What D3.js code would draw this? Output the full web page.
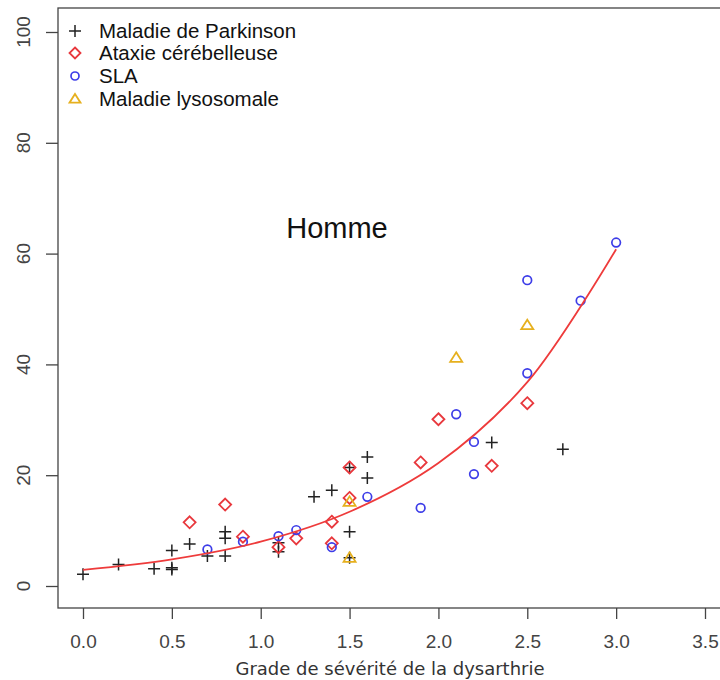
<!DOCTYPE html>
<html>
<head>
<meta charset="utf-8">
<script src="https://cdn.jsdelivr.net/npm/d3@7"></script>
<style>
  html, body { margin: 0; padding: 0; background: #fff; }
  svg { display: block; }
</style>
</head>
<body>
<script>
// ---- Data ----
const parkinsonX = [0.0, 0.2, 0.4, 0.5, 0.5, 0.5, 0.6, 0.7, 0.8, 0.8, 0.8, 1.1, 1.1, 1.3, 1.4, 1.5, 1.5, 1.5, 1.6, 1.6, 2.3, 2.7];
const parkinsonY = [2.1, 3.9, 3.1, 6.4, 3.3, 3.0, 7.6, 5.4, 9.8, 8.6, 5.4, 7.8, 6.2, 16.1, 17.3, 21.4, 9.8, 5.1, 23.3, 19.5, 25.9, 24.7];

const ataxieX = [0.6, 0.8, 0.9, 1.1, 1.2, 1.4, 1.4, 1.5, 1.5, 1.9, 2.0, 2.3, 2.5];
const ataxieY = [11.5, 14.7, 8.9, 7.0, 8.6, 11.6, 7.7, 21.4, 15.9, 22.3, 30.1, 21.7, 33.0];

const slaX = [0.7, 0.9, 1.1, 1.2, 1.4, 1.6, 1.9, 2.1, 2.2, 2.2, 2.5, 2.5, 2.8, 3.0];
const slaY = [6.6, 8.0, 9.0, 10.1, 7.0, 16.1, 14.1, 31.0, 26.0, 20.2, 38.4, 55.2, 51.5, 62.0];

const lysoX = [1.5, 1.5, 2.1, 2.5];
const lysoY = [15.2, 5.1, 41.2, 47.1];

// fitted curve, read at regular grades
const curveX = [0.0, 0.5, 1.0, 1.5, 2.0, 2.5, 3.0];
const curveY = [2.9, 4.8, 8.0, 13.4, 22.2, 36.8, 60.8];

const xTicks = [0.0, 0.5, 1.0, 1.5, 2.0, 2.5, 3.0, 3.5];
const yTicks = [0, 20, 40, 60, 80, 100];

const legendLabels = ["Maladie de Parkinson", "Ataxie cérébelleuse", "SLA", "Maladie lysosomale"];
const panelLabel = "Homme";
const xTitle = "Grade de sévérité de la dysarthrie";

// ---- Layout ----
const W = 720, H = 680;
const box = { left: 58, top: 8, bottom: 608, right: 740 };
const colors = { park: "#222222", atax: "#e8383d", sla: "#3d3de8", lyso: "#e6b01e", curve: "#ee3b3b" };

const svg = d3.select("body").append("svg").attr("width", W).attr("height", H);

const x = d3.scaleLinear().domain([0, 3.5]).range([83, 705]);
const y = d3.scaleLinear().domain([0, 100]).range([586, 32]);

// Plot box
svg.append("rect")
  .attr("x", box.left).attr("y", box.top)
  .attr("width", box.right - box.left).attr("height", box.bottom - box.top)
  .attr("fill", "none").attr("stroke", "#444").attr("stroke-width", 1.3);

// Axes
const xAxis = d3.axisBottom(x).tickValues(xTicks).tickFormat(d3.format(".1f")).tickSize(11).tickPadding(16);
const gx = svg.append("g").attr("transform", `translate(0,${box.bottom})`).call(xAxis);
gx.select(".domain").remove();
gx.selectAll("line").attr("stroke", "#444").attr("stroke-width", 1.3);
gx.selectAll("text").attr("font-family", "Liberation Sans, Arial, sans-serif").attr("font-size", 19).attr("fill", "#444");

const yAxis = d3.axisLeft(y).tickValues(yTicks).tickSize(12).tickFormat("");
const gy = svg.append("g").attr("transform", `translate(${box.left},0)`).call(yAxis);
gy.select(".domain").remove();
gy.selectAll("line").attr("stroke", "#444").attr("stroke-width", 1.3);
gy.selectAll("text").remove();

svg.append("g").selectAll("text").data(yTicks).join("text")
  .attr("transform", d => `translate(30,${y(d)}) rotate(-90)`)
  .attr("text-anchor", "middle")
  .attr("font-family", "Liberation Sans, Arial, sans-serif").attr("font-size", 19).attr("fill", "#444")
  .text(d => d);

// x title
svg.append("text").attr("x", 390).attr("y", 675)
  .attr("text-anchor", "middle")
  .attr("font-family", "DejaVu Sans, sans-serif").attr("font-size", 18)
  .attr("fill", "#333")
  .text(xTitle);

// Panel label
svg.append("text").attr("x", 337).attr("y", 238)
  .attr("text-anchor", "middle")
  .attr("font-family", "Liberation Sans, Arial, sans-serif").attr("font-size", 29)
  .attr("fill", "#111")
  .text(panelLabel);

// ---- Marker drawing helpers ----
function plus(g, cx, cy, s, c) {
  g.append("path").attr("d", `M${cx - s},${cy}H${cx + s}M${cx},${cy - s}V${cy + s}`)
    .attr("stroke", c).attr("stroke-width", 1.5).attr("fill", "none");
}
function diamond(g, cx, cy, s, c) {
  g.append("path").attr("d", `M${cx},${cy - s}L${cx + s},${cy}L${cx},${cy + s}L${cx - s},${cy}Z`)
    .attr("stroke", c).attr("stroke-width", 1.8).attr("fill", "none");
}
function circle(g, cx, cy, r, c) {
  g.append("circle").attr("cx", cx).attr("cy", cy).attr("r", r)
    .attr("stroke", c).attr("stroke-width", 1.7).attr("fill", "none");
}
function triangle(g, cx, cy, s, c) {
  const h = s * 0.9;
  g.append("path").attr("d", `M${cx},${cy - h}L${cx + s},${cy + h * 0.75}L${cx - s},${cy + h * 0.75}Z`)
    .attr("stroke", c).attr("stroke-width", 1.8).attr("fill", "none");
}

const pts = svg.append("g");
parkinsonX.forEach((v, i) => plus(pts, x(v), y(parkinsonY[i]), 6, colors.park));
ataxieX.forEach((v, i) => diamond(pts, x(v), y(ataxieY[i]), 6, colors.atax));
slaX.forEach((v, i) => circle(pts, x(v), y(slaY[i]), 4.3, colors.sla));
lysoX.forEach((v, i) => triangle(pts, x(v), y(lysoY[i]), 6, colors.lyso));

// Curve
const line = d3.line().x(d => x(d[0])).y(d => y(d[1])).curve(d3.curveCatmullRom);
svg.append("path")
  .datum(curveX.map((v, i) => [v, curveY[i]]))
  .attr("d", line)
  .attr("fill", "none").attr("stroke", colors.curve).attr("stroke-width", 1.8);

// Legend
const leg = svg.append("g");
const legY = [31, 53, 76, 99];
const drawers = [
  (cy) => plus(leg, 75, cy, 6, colors.park),
  (cy) => diamond(leg, 75, cy, 5.5, colors.atax),
  (cy) => circle(leg, 75, cy, 4, colors.sla),
  (cy) => triangle(leg, 75, cy, 5.5, colors.lyso)
];
legendLabels.forEach((t, i) => {
  drawers[i](legY[i]);
  leg.append("text").attr("x", 99).attr("y", legY[i] + 7)
    .attr("font-family", "Liberation Sans, Arial, sans-serif").attr("font-size", 20.5)
    .attr("fill", "#111")
    .text(t);
});
</script>
</body>
</html>
